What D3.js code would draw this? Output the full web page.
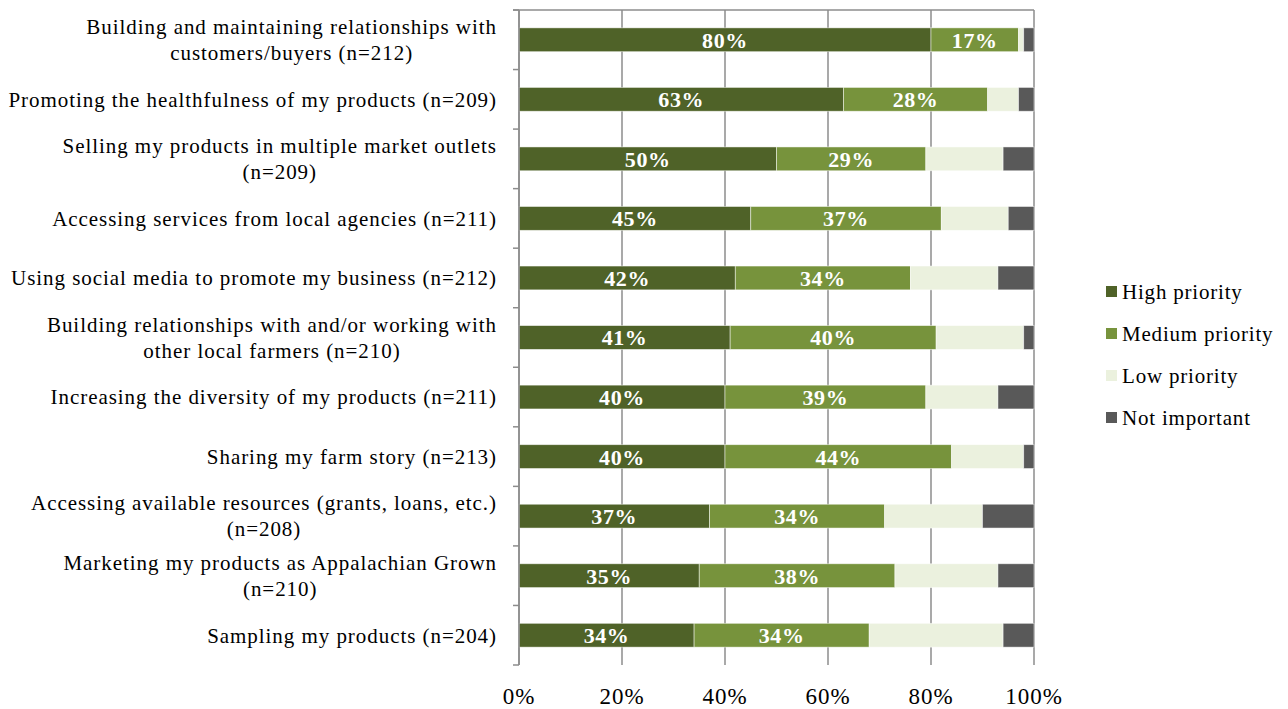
<!DOCTYPE html>
<html>
<head>
<meta charset="utf-8">
<script src="https://cdn.jsdelivr.net/npm/d3@7/dist/d3.min.js"></script>
<style>
  html, body { margin: 0; padding: 0; background: #fff; }
  svg { display: block; font-family: "Liberation Serif", "DejaVu Serif", serif; }
</style>
</head>
<body>
<svg id="chart" width="1288" height="709"></svg>
<script>
// Survey items (each label line is a separate entry)
const categories = [
  ["Building and maintaining relationships with", "customers/buyers (n=212)"],
  ["Promoting the healthfulness of my products (n=209)"],
  ["Selling my products in multiple market outlets", "(n=209)"],
  ["Accessing services from local agencies (n=211)"],
  ["Using social media to promote my business (n=212)"],
  ["Building relationships with and/or working with", "other local farmers (n=210)"],
  ["Increasing the diversity of my products (n=211)"],
  ["Sharing my farm story (n=213)"],
  ["Accessing available resources (grants, loans, etc.)", "(n=208)"],
  ["Marketing my products as Appalachian Grown", "(n=210)"],
  ["Sampling my products (n=204)"]
];

const seriesNames = ["High priority", "Medium priority", "Low priority", "Not important"];
const highPriority   = [80, 63, 50, 45, 42, 41, 40, 40, 37, 35, 34];
const mediumPriority = [17, 28, 29, 37, 34, 40, 39, 44, 34, 38, 34];
const lowPriority    = [1, 6, 15, 13, 17, 17, 14, 14, 19, 20, 26];
const notImportant   = [2, 3, 6, 5, 7, 2, 7, 2, 10, 7, 6];
const xTicks = [0, 20, 40, 60, 80, 100];

const colors = ["#4F6228", "#77933C", "#EBF1DE", "#595959"];

const rows = categories.map((c, i) => ({
  key: c.join(" "),
  lines: c,
  "High priority": highPriority[i],
  "Medium priority": mediumPriority[i],
  "Low priority": lowPriority[i],
  "Not important": notImportant[i]
}));

const svg = d3.select("#chart");
const margin = { left: 519, right: 254, top: 10, bottom: 44 };
const W = 1288, H = 709;

const x = d3.scaleLinear().domain([0, 100]).range([margin.left, W - margin.right]);
const y = d3.scaleBand().domain(rows.map(r => r.key))
  .range([margin.top, H - margin.bottom]).paddingInner(0.6).paddingOuter(0.3);
const band = d3.scaleBand().domain(rows.map(r => r.key))
  .range([margin.top, H - margin.bottom]);

const stack = d3.stack().keys(seriesNames)(rows);

// vertical gridlines
svg.append("g").selectAll("line").data(xTicks).join("line")
  .attr("x1", d => x(d)).attr("x2", d => x(d))
  .attr("y1", margin.top).attr("y2", H - margin.bottom)
  .attr("stroke", "#8c8c8c").attr("stroke-width", 1.5);

// top border line
svg.append("line")
  .attr("x1", x(0) - 6).attr("x2", x(100))
  .attr("y1", margin.top).attr("y2", margin.top)
  .attr("stroke", "#8c8c8c").attr("stroke-width", 1.5);

// category axis with ticks at band boundaries
const bounds = rows.map(r => band(r.key)).concat([H - margin.bottom]);
svg.append("g").selectAll("line").data(bounds).join("line")
  .attr("x1", x(0) - 6).attr("x2", x(0))
  .attr("y1", d => d).attr("y2", d => d)
  .attr("stroke", "#8c8c8c").attr("stroke-width", 1.5);

// stacked bars
const layers = svg.append("g").selectAll("g").data(stack).join("g")
  .attr("fill", (d, i) => colors[i]);
layers.selectAll("rect").data(d => d).join("rect")
  .attr("x", d => x(d[0]))
  .attr("width", d => x(d[1]) - x(d[0]))
  .attr("y", d => y(d.data.key))
  .attr("height", y.bandwidth())
  .attr("stroke", "rgba(255,255,255,0.6)")
  .attr("stroke-width", 0.8);

svg.append("line")
  .attr("x1", x(0)).attr("x2", x(0))
  .attr("y1", margin.top).attr("y2", H - margin.bottom)
  .attr("stroke", "#8c8c8c").attr("stroke-width", 1.5);

// value labels on high and medium segments
stack.slice(0, 2).forEach(layer => {
  svg.append("g").selectAll("text").data(layer).join("text")
    .attr("x", d => (x(d[0]) + x(d[1])) / 2)
    .attr("y", d => y(d.data.key) + y.bandwidth() / 2)
    .attr("dy", "0.36em")
    .attr("text-anchor", "middle")
    .attr("fill", "#fff")
    .attr("font-weight", "bold")
    .attr("font-size", 22)
    .attr("letter-spacing", 0.6)
    .text(d => (d[1] - d[0]) + "%");
});

// category labels
const labels = svg.append("g").selectAll("text").data(rows).join("text")
  .attr("text-anchor", "end")
  .attr("font-size", 21)
  .attr("letter-spacing", 0.95)
  .attr("fill", "#000");
labels.each(function(r) {
  const cy = band(r.key) + band.bandwidth() / 2;
  const n = r.lines.length;
  d3.select(this).selectAll("tspan").data(r.lines).join("tspan")
    .attr("x", r.lines.length > 1 ? null : 497)
    .attr("y", (d, i) => cy + (i - (n - 1) / 2) * 26)
    .attr("dy", "0.35em")
    .text(d => d);
});
// two-line labels are centred on their widest line, right edge at 497
labels.each(function(r) {
  if (r.lines.length < 2) return;
  const spans = d3.select(this).selectAll("tspan").nodes();
  const widths = spans.map(s => s.getComputedTextLength());
  const maxW = Math.max(...widths);
  const centre = 497 - maxW / 2;
  spans.forEach(s => {
    d3.select(s).attr("x", centre).attr("text-anchor", "middle");
  });
});

// x tick labels
svg.append("g").selectAll("text").data(xTicks).join("text")
  .attr("x", d => x(d))
  .attr("y", 704)
  .attr("text-anchor", "middle")
  .attr("font-size", 23)
  .attr("letter-spacing", 1)
  .text(d => d + "%");

// legend
const legend = svg.append("g").selectAll("g").data(seriesNames).join("g")
  .attr("transform", (d, i) => `translate(1106, ${292 + i * 42})`);
legend.append("rect")
  .attr("x", 0).attr("y", -6).attr("width", 11).attr("height", 11)
  .attr("fill", (d, i) => colors[i]);
legend.append("text")
  .attr("x", 16).attr("y", 0).attr("dy", "0.35em")
  .attr("font-size", 21)
  .attr("letter-spacing", 0.8)
  .text(d => d);
</script>
</body>
</html>
